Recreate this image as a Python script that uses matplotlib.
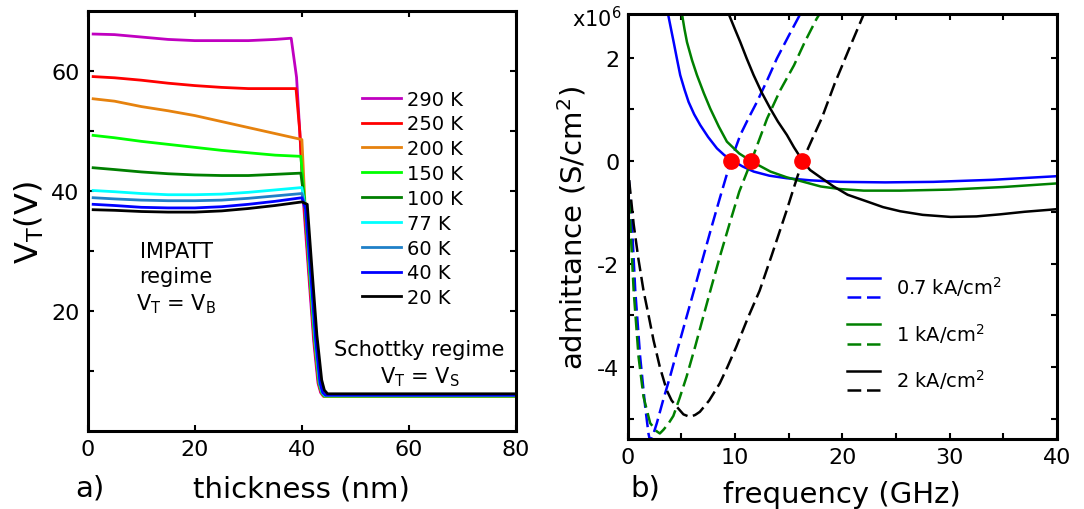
import numpy as np
import matplotlib
matplotlib.use("Agg")
import matplotlib.pyplot as plt
from matplotlib.lines import Line2D
from matplotlib.legend_handler import HandlerBase
from matplotlib.ticker import FixedLocator

plt.rcParams['font.family'] = ['DejaVu Sans']
plt.rcParams['mathtext.fontset'] = 'dejavusans'
plt.rcParams['axes.unicode_minus'] = False

# ---------------------------------------------------------
# Panel a) threshold voltage vs thickness
# ---------------------------------------------------------
temp_labels = ['290 K', '250 K', '200 K', '150 K', '100 K', '77 K', '60 K', '40 K', '20 K']
temp_colors = ['#c000c0', '#ff0000', '#e6820e', '#00ff00', '#007f00',
               '#00ffff', '#1f80c8', '#0000ff', '#000000']

x_290 = [1, 5, 10, 15, 20, 25, 30, 35, 38, 39, 39.6, 40.3, 41.2, 42.2, 43, 43.5, 44, 80]
y_290 = [66.2, 66.1, 65.7, 65.3, 65.1, 65.1, 65.1, 65.3, 65.5, 59, 50, 38, 27, 15, 8, 6.4, 5.8, 5.8]

x_250 = [1, 5, 10, 15, 20, 25, 30, 35, 38.9, 39.6, 40.4, 41.3, 42.3, 43.1, 43.6, 44.1, 80]
y_250 = [59.1, 58.9, 58.5, 58.0, 57.6, 57.3, 57.1, 57.1, 57.1, 50, 38, 27, 15, 8, 6.4, 5.8, 5.8]

x_200 = [1, 5, 10, 15, 20, 25, 30, 35, 40, 40.6, 41.4, 42.4, 43.2, 43.7, 44.2, 80]
y_200 = [55.4, 55.0, 54.1, 53.4, 52.6, 51.6, 50.6, 49.6, 48.6, 37.5, 27, 15, 8, 6.4, 5.8, 5.8]

x_150 = [1, 5, 10, 15, 20, 25, 30, 35, 39.8, 40.6, 41.4, 42.4, 43.2, 43.7, 44.2, 80]
y_150 = [49.3, 48.9, 48.3, 47.8, 47.3, 46.8, 46.4, 46.0, 45.8, 37.5, 27, 15, 8, 6.4, 5.8, 5.8]

x_100 = [1, 5, 10, 15, 20, 25, 30, 35, 39.8, 40.6, 41.5, 42.5, 43.3, 43.8, 44.3, 80]
y_100 = [43.9, 43.6, 43.2, 42.9, 42.7, 42.6, 42.6, 42.8, 43.0, 37.5, 27, 15, 8, 6.4, 5.9, 5.9]

x_77 = [1, 5, 10, 15, 20, 25, 30, 35, 40, 40.7, 41.5, 42.5, 43.3, 43.8, 44.3, 80]
y_77 = [40.1, 39.9, 39.6, 39.4, 39.4, 39.5, 39.8, 40.2, 40.6, 37.0, 27, 15, 8, 6.4, 5.9, 5.9]

x_60 = [1, 5, 10, 15, 20, 25, 30, 35, 40, 40.7, 41.6, 42.6, 43.4, 43.9, 44.4, 80]
y_60 = [38.9, 38.7, 38.5, 38.4, 38.4, 38.5, 38.8, 39.2, 39.6, 37.0, 27, 15, 8, 6.4, 5.9, 5.9]

x_40 = [1, 5, 10, 15, 20, 25, 30, 35, 40, 40.7, 41.6, 42.6, 43.4, 43.9, 44.4, 80]
y_40 = [37.8, 37.6, 37.3, 37.2, 37.2, 37.4, 37.8, 38.3, 38.9, 37.0, 27, 15, 8, 6.4, 6.0, 6.0]

x_20 = [1, 5, 10, 15, 20, 25, 30, 35, 40, 41, 41.8, 42.8, 43.7, 44.2, 44.8, 80]
y_20 = [36.9, 36.8, 36.6, 36.5, 36.5, 36.7, 37.1, 37.6, 38.2, 37.8, 28, 16, 8.5, 6.8, 6.2, 6.2]

thick_x = [x_290, x_250, x_200, x_150, x_100, x_77, x_60, x_40, x_20]
thick_y = [y_290, y_250, y_200, y_150, y_100, y_77, y_60, y_40, y_20]

# ---------------------------------------------------------
# Panel b) admittance vs frequency (units of 1e6 S/cm^2)
# ---------------------------------------------------------
current_labels = ['0.7 kA/cm$^2$', '1 kA/cm$^2$', '2 kA/cm$^2$']
current_colors = ['#0000ff', '#008000', '#000000']

# real part (solid)
f_g07 = [3.76, 4.0, 4.29, 4.6, 4.9, 5.3, 5.68, 6.2, 6.77, 7.5, 8.32, 9.0, 9.72, 10.7,
         11.74, 13.2, 14.84, 17, 19.8, 24, 28.5, 34, 40]
g_07 = [2.85, 2.6, 2.30, 1.97, 1.66, 1.38, 1.14, 0.90, 0.69, 0.46, 0.24, 0.11, 0.01, -0.11,
        -0.21, -0.29, -0.34, -0.38, -0.41, -0.42, -0.41, -0.37, -0.30]

f_g1 = [5.06, 5.3, 5.53, 6.0, 6.46, 7.1, 7.7, 8.5, 9.25, 10.4, 11.6, 13.3, 14.8, 16.4,
        18, 19.8, 22, 25.4, 30, 35, 40]
g_1 = [2.85, 2.55, 2.30, 1.95, 1.66, 1.31, 1.01, 0.66, 0.37, 0.14, -0.02, -0.21, -0.32, -0.41,
       -0.50, -0.55, -0.58, -0.58, -0.56, -0.51, -0.44]

f_g2 = [9.41, 10.0, 10.5, 11.1, 11.74, 12.5, 13.3, 14.0, 14.84, 15.5, 16.27, 17.0, 17.95,
        19.2, 20.5, 22.3, 23.8, 25.4, 27.5, 30.1, 32.5, 34.7, 37, 40]
g_2 = [2.85, 2.55, 2.30, 1.98, 1.66, 1.32, 1.01, 0.76, 0.50, 0.26, 0.01, -0.18, -0.32,
       -0.50, -0.66, -0.79, -0.90, -0.98, -1.05, -1.09, -1.08, -1.04, -0.99, -0.94]

# imaginary part (dashed)
f_b07 = [0, 0.15, 0.4, 0.71, 1.17, 1.64, 1.94, 2.1, 2.4, 2.72, 3.3, 3.95, 4.7, 5.49, 6.3,
         7.04, 7.8, 8.6, 9.56, 10.5, 11.3, 12.05, 13.0, 13.9, 15.0, 16.1]
b_07 = [0, -0.5, -1.23, -2.52, -3.81, -4.78, -5.29, -5.45, -5.3, -5.09, -4.65, -4.19, -3.62,
        -3.03, -2.43, -1.87, -1.3, -0.72, -0.04, 0.50, 0.84, 1.14, 1.56, 1.98, 2.42, 2.85]

f_b1 = [0, 0.1, 0.25, 0.56, 1.02, 1.48, 2.1, 2.72, 3.0, 3.33, 3.8, 4.26, 4.85, 5.49, 6.3,
        7.04, 7.8, 8.58, 9.5, 10.4, 11.5, 13.0, 14.2, 15.5, 16.5, 17.6, 17.9]
b_1 = [0, -0.5, -1.23, -2.52, -3.81, -4.58, -5.09, -5.25, -5.29, -5.22, -5.1, -4.95, -4.6,
       -4.19, -3.6, -3.03, -2.45, -1.87, -1.22, -0.6, -0.02, 0.82, 1.36, 1.85, 2.3, 2.75, 2.85]

f_b2 = [0, 0.2, 0.56, 1.0, 1.48, 2.0, 2.41, 3.0, 3.64, 4.1, 4.57, 5.2, 5.8, 6.3, 6.73, 7.6,
        8.58, 9.3, 10.12, 11.2, 12.3, 13.4, 14.84, 15.4, 16.3, 17.2, 18.1, 19.3, 20.6, 22.0]
b_2 = [0, -0.5, -1.23, -1.9, -2.52, -3.05, -3.48, -4.0, -4.45, -4.65, -4.77, -4.92, -4.97,
       -4.93, -4.87, -4.65, -4.32, -4.0, -3.61, -3.05, -2.52, -1.85, -0.95, -0.58, 0.0,
       0.42, 0.83, 1.5, 2.15, 2.84]

cross_f = [9.62, 11.5, 16.25]
cross_y = [0, 0, 0]


class StackedPair(HandlerBase):
    # solid line on top, dashed line below, text in the middle
    def create_artists(self, legend, orig_handle, xdescent, ydescent,
                       width, height, fontsize, trans):
        artists = []
        for h, frac in zip(orig_handle, (1.0, 0.0)):
            y = -ydescent + frac * height
            ln = Line2D([-xdescent, -xdescent + width], [y, y])
            ln.update_from(h)
            ln.set_transform(trans)
            artists.append(ln)
        return artists


fig = plt.figure(figsize=(10.84, 5.1), dpi=100)
ax1 = fig.add_axes([0.081, 0.153, 0.395, 0.823])
ax2 = fig.add_axes([0.579, 0.137, 0.396, 0.834])

for ax in (ax1, ax2):
    for sp in ax.spines.values():
        sp.set_linewidth(2.2)
    ax.tick_params(which='both', direction='in', top=True, right=True,
                   length=4, width=1.5, labelsize=16, pad=6)

# ---- panel a
for xs, ys, c, lab in zip(thick_x, thick_y, temp_colors, temp_labels):
    ax1.plot(xs, ys, color=c, lw=2.0, label=lab)
ax1.set_xlim(0, 80)
ax1.set_ylim(0, 70)
ax1.set_xticks([0, 20, 40, 60, 80])
ax1.yaxis.set_major_locator(FixedLocator([20, 40, 60]))
ax1.yaxis.set_minor_locator(FixedLocator([10, 30, 50]))
ax1.set_xlabel('thickness (nm)', fontsize=21, labelpad=11)
ax1.set_ylabel('V$_\\mathrm{T}$(V)', fontsize=23, labelpad=4)
ax1.legend(loc='upper left', bbox_to_anchor=(0.6, 0.855), frameon=False,
           fontsize=14, handlelength=2.0, handletextpad=0.3, labelspacing=0.3)
ax1.text(16.5, 25.5, 'IMPATT\nregime\nV$_\\mathrm{T}$ = V$_\\mathrm{B}$', fontsize=15,
         ha='center', va='center', linespacing=1.3)
ax1.text(62, 11.2, 'Schottky regime\nV$_\\mathrm{T}$ = V$_\\mathrm{S}$', fontsize=15,
         ha='center', va='center', linespacing=1.3)
fig.text(0.083, 0.043, 'a)', fontsize=21, ha='center', va='center')

# ---- panel b
dash = (0, (5.5, 2.3))
h_s = []
h_d = []
for fs, gs, fb, bs, c in zip([f_g07, f_g1, f_g2], [g_07, g_1, g_2],
                              [f_b07, f_b1, f_b2], [b_07, b_1, b_2], current_colors):
    ls, = ax2.plot(fs, gs, color=c, lw=1.8)
    ld, = ax2.plot(fb, bs, color=c, lw=1.8, linestyle=dash)
    h_s.append(ls)
    h_d.append(ld)
ax2.plot(cross_f, cross_y, 'o', color='#ff0000', markersize=11, zorder=5)
ax2.set_xlim(0, 40)
ax2.set_ylim(-5.4, 2.85)
ax2.xaxis.set_major_locator(FixedLocator([0, 10, 20, 30, 40]))
ax2.xaxis.set_minor_locator(FixedLocator([5, 15, 25, 35]))
ax2.yaxis.set_major_locator(FixedLocator([-4, -2, 0, 2]))
ax2.yaxis.set_minor_locator(FixedLocator([-5, -3, -1, 1]))
ax2.set_xlabel('frequency (GHz)', fontsize=21, labelpad=9)
ax2.set_ylabel('admittance (S/cm$^2$)', fontsize=21, labelpad=6)
ax2.text(-0.015, 0.99, 'x10$^6$', transform=ax2.transAxes, fontsize=15,
         ha='right', va='center')
ax2.legend(handles=list(zip(h_s, h_d)), labels=current_labels,
           handler_map={tuple: StackedPair()}, loc='lower left',
           bbox_to_anchor=(0.47, 0.072), frameon=False, fontsize=14,
           handlelength=1.7, handleheight=1.15, handletextpad=0.8, labelspacing=1.15)
fig.text(0.595, 0.043, 'b)', fontsize=21, ha='center', va='center')

fig.savefig('out.png', dpi=100)
